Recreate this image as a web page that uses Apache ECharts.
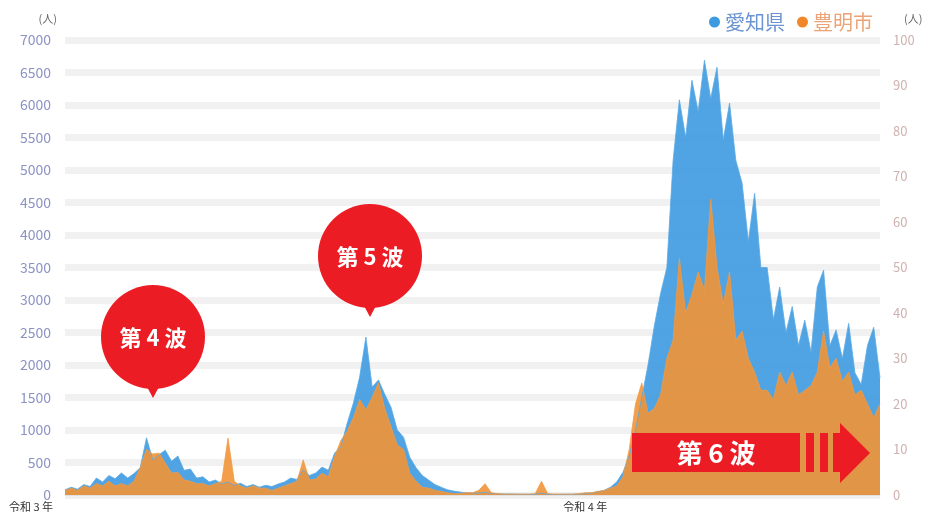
<!DOCTYPE html>
<html><head><meta charset="utf-8">
<script src="https://cdn.jsdelivr.net/npm/echarts@6/dist/echarts.min.js"></script>
<style>html,body{margin:0;padding:0;background:#fff}#c{width:926px;height:516px}</style>
</head><body><div id="c"></div>
<script>
const aichi = [
  80,120,90,160,130,260,200,300,250,340,
  260,330,420,880,540,620,690,520,600,380,
  400,260,280,200,230,170,200,150,180,130,
  160,120,150,130,170,200,260,240,385,300,
  340,430,380,645,740,1100,1415,1815,2430,1660,
  1770,1550,1350,1000,890,580,420,300,230,160,
  120,80,60,45,35,30,30,40,25,20,
  15,15,12,12,10,10,30,12,10,10,
  12,10,15,20,30,50,70,120,200,350,
  600,1000,1500,2000,2600,3100,3500,5150,6080,5500,
  6380,5900,6690,6100,6580,5460,6030,5150,4800,3900,
  4640,3500,3500,2700,3200,2500,2900,2300,2690,2200,
  3200,3460,2300,2540,2100,2640,1880,1700,2300,2580,
  1800
];
const toyoake = [
  1,1.5,1,2,1.5,2.5,2,3,2,2.5,
  2,3,6,10,9,9.2,7,4.8,5,3.3,
  3,2.5,2.5,2,2.5,3,12.5,3,2,1.5,
  2,1.5,1.5,1,1.5,2,2.5,3,7.7,3.3,
  3.5,4.8,4,8.4,12,14,17,21,18.7,21.5,
  24.6,19,15,11,10,4.8,3,1.7,1.5,1,
  0.8,0.5,0.3,0.3,0.5,0.5,1,2.5,0.5,0.3,
  0.2,0.2,0.2,0.2,0.2,0.3,3,0.3,0.2,0.2,
  0.2,0.2,0.3,0.5,0.5,0.8,1,1.5,2,4,
  10,20,24.6,18,19,22,30,34,52,40,
  44,49,45,65,50,42,49,34,36,30,
  27,23,23,21,27,24,27,22,23,24,
  27,36,28,30,25,27,22,23,20,17,
  20
];
const seriesNames = ['愛知県', '豊明市'];
const yearLabels = { 0: '令和 3 年', 83: '令和 4 年' };
// category labels: half-week steps starting 2021-03-16
const startDate = new Date(2021, 2, 16);
const categories = aichi.map((_, i) => {
  const d = new Date(startDate.getTime() + i * 3.5 * 86400000);
  return d.getFullYear() + '/' + (d.getMonth() + 1) + '/' + d.getDate();
});

const FONT = '"Noto Sans CJK JP", "Noto Sans", sans-serif';
const RED = '#ec1c24';
const chart = echarts.init(document.getElementById('c'), null, { renderer: 'canvas' });

function balloon(cx, cy, label) {
  return {
    type: 'group', z: 100,
    children: [
      { type: 'circle', z: 100, shape: { cx: cx, cy: cy, r: 52 }, style: { fill: RED } },
      { type: 'polygon', z: 100, shape: { points: [[cx - 8, cy + 46], [cx + 8, cy + 46], [cx, cy + 61]] }, style: { fill: RED } },
      { type: 'text', z: 101, x: cx, y: cy + 1, style: { text: label, fill: '#fff', font: 'bold 22px ' + FONT, align: 'center', verticalAlign: 'middle', textAlign: 'center', textVerticalAlign: 'middle' } }
    ]
  };
}

chart.setOption({
  animation: false,
  textStyle: { fontFamily: FONT },
  grid: { left: 65, right: 46, top: 40, bottom: 21, containLabel: false },
  legend: {
    right: 48, top: 7, itemWidth: 11, itemHeight: 11, itemGap: 12, icon: 'circle',
    data: [
      { name: seriesNames[0], textStyle: { color: '#6b94d2', fontSize: 20 } },
      { name: seriesNames[1], textStyle: { color: '#eba477', fontSize: 20 } }
    ]
  },
  xAxis: {
    type: 'category', data: categories, boundaryGap: false,
    axisLine: { lineStyle: { color: '#e2e2e2' } },
    axisTick: { show: false },
    axisLabel: {
      interval: (idx) => yearLabels[idx] !== undefined,
      formatter: (v, idx) => idx === 0 ? '{a|' + yearLabels[idx] + '}' : '{b|' + (yearLabels[idx] || '') + '}',
      rich: {
        a: { padding: [0, 68, 0, 0], fontSize: 11, color: '#333', fontFamily: FONT },
        b: { fontSize: 11, color: '#333', fontFamily: FONT }
      },
      margin: 6, hideOverlap: false
    }
  },
  yAxis: [
    {
      type: 'value', min: 0, max: 7000, interval: 500,
      name: '(人)', nameLocation: 'end', nameGap: 16,
      nameTextStyle: { color: '#666', fontSize: 11, align: 'right', padding: [0, 8, 0, 0] },
      axisLabel: { color: '#8b93c4', fontSize: 14, margin: 14, formatter: (v) => String(v) },
      axisLine: { show: false }, axisTick: { show: false },
      splitLine: { lineStyle: { color: '#f1f1f1', width: 7 } }
    },
    {
      type: 'value', min: 0, max: 100, interval: 10,
      name: '(人)', nameLocation: 'end', nameGap: 16,
      nameTextStyle: { color: '#666', fontSize: 11, align: 'left', padding: [0, 0, 0, 24] },
      axisLabel: { color: '#cfb2b0', fontSize: 13, margin: 13, formatter: (v) => String(v) },
      axisLine: { show: false }, axisTick: { show: false },
      splitLine: { show: false }
    }
  ],
  series: [
    {
      name: seriesNames[0], type: 'line', yAxisIndex: 0, data: aichi,
      symbol: 'none', color: '#3d9ae0',
      lineStyle: { width: 0.8, color: '#5aaae4' },
      areaStyle: { color: '#3d9ae0', opacity: 0.9 }
    },
    {
      name: seriesNames[1], type: 'line', yAxisIndex: 1, data: toyoake,
      symbol: 'none', color: '#f0882a',
      lineStyle: { width: 0.8, color: '#f39a45' },
      areaStyle: { color: '#f29436', opacity: 0.9 }
    }
  ],
  graphic: [
    balloon(153, 337, '第 4 波'),
    balloon(370, 256, '第 5 波'),
    {
      type: 'group', z: 100,
      children: [
        { type: 'rect', z: 100, shape: { x: 632, y: 433, width: 168, height: 39 }, style: { fill: RED } },
        { type: 'rect', z: 100, shape: { x: 806, y: 433, width: 8, height: 39 }, style: { fill: RED } },
        { type: 'rect', z: 100, shape: { x: 820, y: 433, width: 8, height: 39 }, style: { fill: RED } },
        { type: 'polygon', z: 100, shape: { points: [[833, 433], [840, 433], [840, 423], [870, 453], [840, 483], [840, 472], [833, 472]] }, style: { fill: RED } },
        { type: 'text', z: 101, x: 716, y: 453, style: { text: '第 6 波', fill: '#fff', font: 'bold 26px ' + FONT, align: 'center', verticalAlign: 'middle', textAlign: 'center', textVerticalAlign: 'middle' } }
      ]
    }
  ]
});
</script>
</body></html>
